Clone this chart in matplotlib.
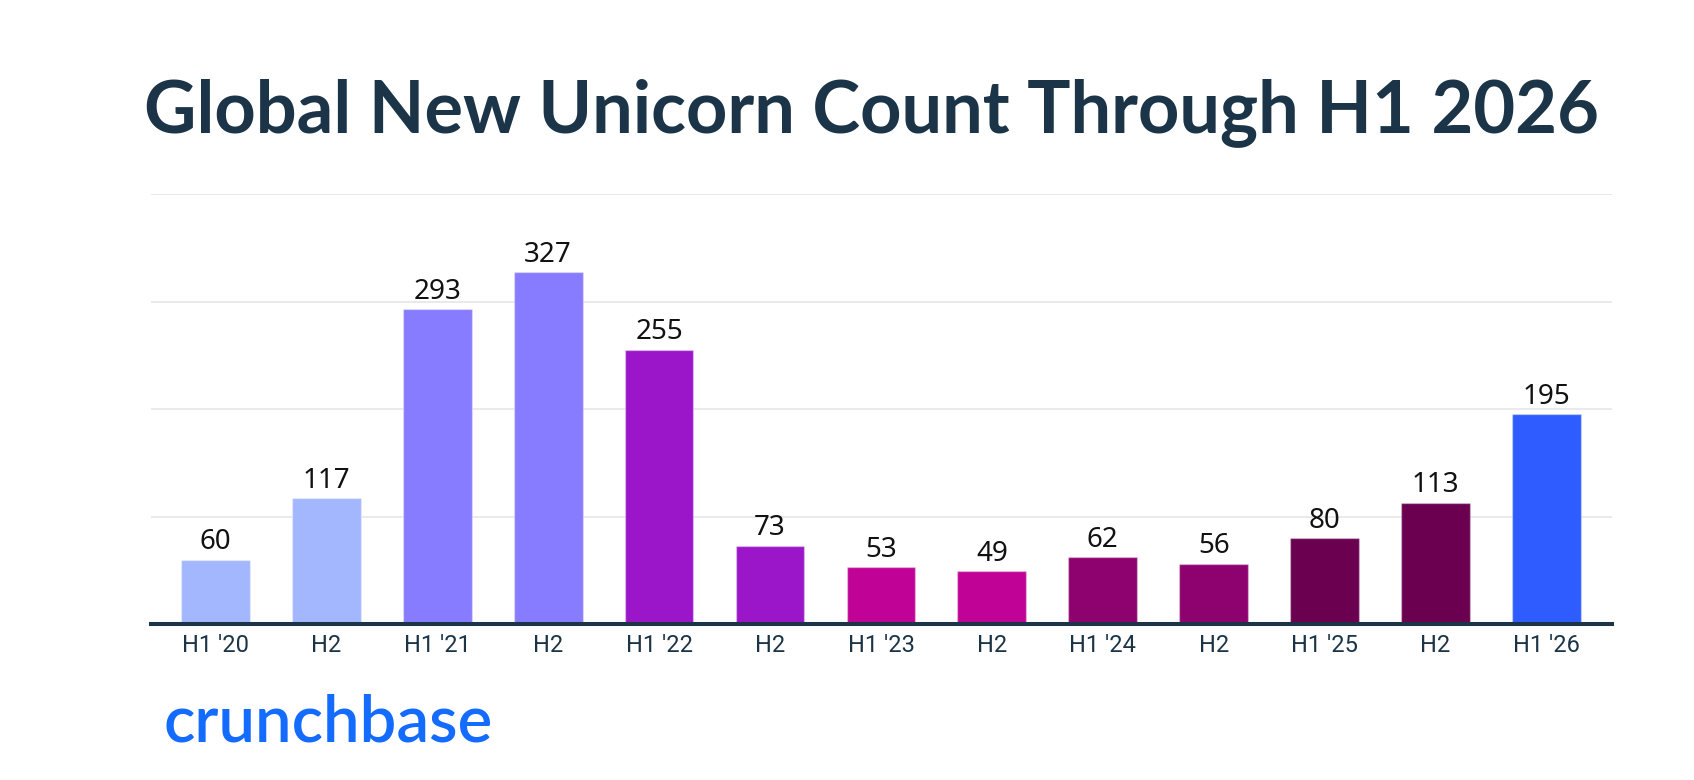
import matplotlib
matplotlib.use("Agg")
import matplotlib.pyplot as plt
import numpy as np

# Data
periods = ["H1 '20", "H2", "H1 '21", "H2", "H1 '22", "H2", "H1 '23", "H2",
           "H1 '24", "H2", "H1 '25", "H2", "H1 '26"]
counts = [60, 117, 293, 327, 255, 73, 53, 49, 62, 56, 80, 113, 195]
bar_colors = ["#a3b7ff", "#a3b7ff", "#877bff", "#877bff", "#9b16c9", "#9b16c9",
              "#c00396", "#c00396", "#8e026f", "#8e026f", "#6b0050", "#6b0050",
              "#2f5cff"]
yticks = [0, 100, 200, 300, 400]

navy = "#1b3447"

fig = plt.figure(figsize=(16.94, 7.8), dpi=100)
ax = fig.add_axes([151/1694, 1 - 624/780, (1612 - 151)/1694, (624 - 194)/780])

x = np.arange(len(periods))
bars = ax.bar(x, counts, width=0.62, color=bar_colors,
              edgecolor=(1, 1, 1, 0.35), linewidth=1.0, zorder=3)

# Value labels
for xi, v in zip(x, counts):
    ax.annotate(str(v), (xi, v), xytext=(0, 7.5), textcoords="offset points",
                ha="center", va="baseline", fontsize=20, color="#111111",
                family="Noto Sans")

# Axes styling
ax.set_xlim(-0.58, 12.59)
ax.set_ylim(0, 400)
ax.set_yticks(yticks)
ax.set_yticklabels([])
ax.tick_params(axis="y", length=0)
ax.grid(axis="y", color="#e6e6e6", linewidth=1.2, zorder=0)
ax.set_axisbelow(True)
for s in ["top", "right", "left"]:
    ax.spines[s].set_visible(False)
ax.spines["bottom"].set_color(navy)
ax.spines["bottom"].set_linewidth(2.9)
ax.spines["bottom"].set_zorder(4)

ax.set_xticks(x)
ax.set_xticklabels(periods, fontsize=17, color=navy, family="Roboto")
ax.tick_params(axis="x", length=0, pad=7)

# Title
fig.text(871/1694, 1 - 132/780, "Global New Unicorn Count Through H1 2026",
         ha="center", va="baseline", fontsize=52, fontweight="bold",
         color=navy, family="Lato")

# Brand mark
fig.text(163/1694, 1 - 742/780, "crunchbase", ha="left", va="baseline",
         fontsize=47, fontweight="semibold", color="#146bff", family="Lato")

fig.savefig("out.png", dpi=100)
